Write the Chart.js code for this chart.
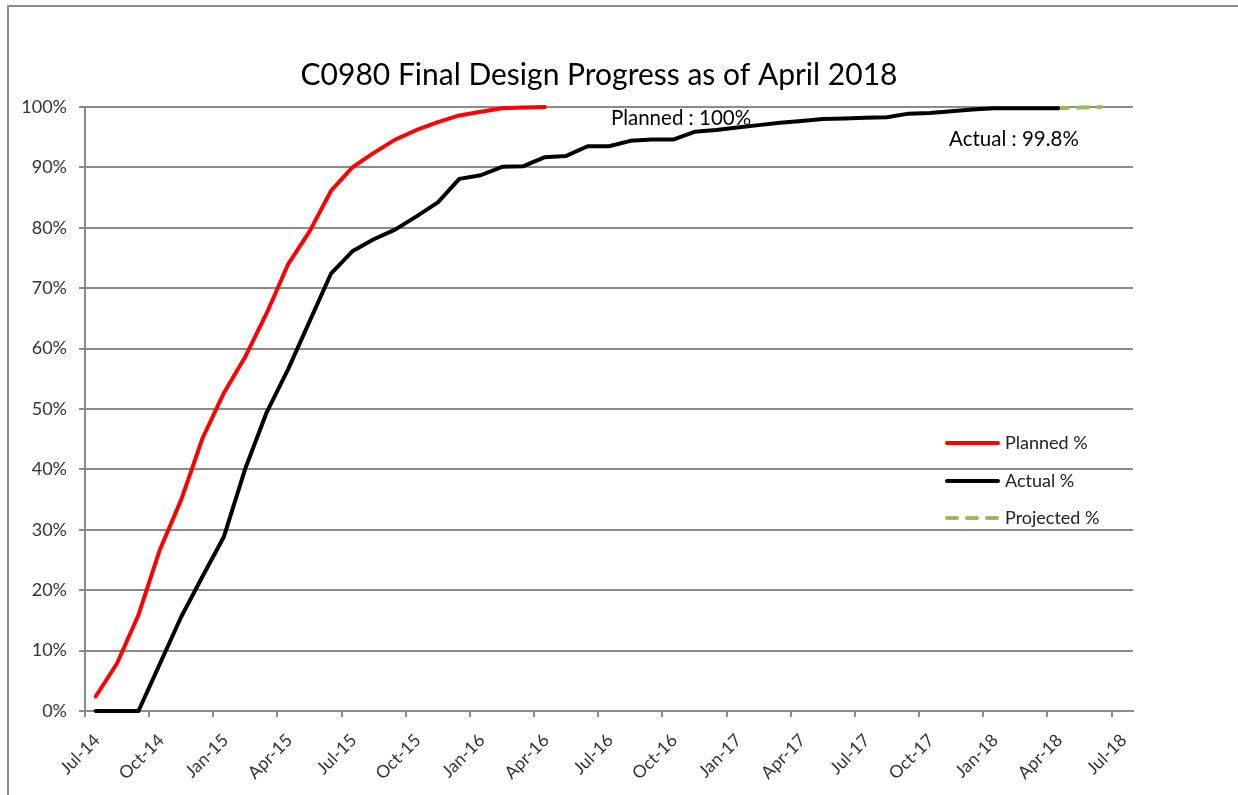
<!DOCTYPE html>
<html>
<head>
<meta charset="utf-8">
<title>C0980 Final Design Progress</title>
<script src="https://cdn.jsdelivr.net/npm/chart.js@4.4.1/dist/chart.umd.min.js"></script>
<style>
  html, body { margin: 0; padding: 0; background: #fff; overflow: hidden; }
  #wrap { position: relative; width: 1238px; height: 795px; overflow: hidden; }
  #frame { position: absolute; left: 7px; top: 5px; width: 1400px; height: 900px;
           border-left: 2px solid #8c8c8c; border-top: 2px solid #8c8c8c; }
  canvas { position: absolute; left: 0; top: 0; }
</style>
</head>
<body>
<div id="wrap">
  <div id="frame"></div>
  <canvas id="progressChart" width="1238" height="795"></canvas>
</div>
<script>
// Axis ticks every 3 months, month 0 = Jul-14
const tickLabels = ['Jul-14', 'Oct-14', 'Jan-15', 'Apr-15', 'Jul-15', 'Oct-15', 'Jan-16', 'Apr-16',
  'Jul-16', 'Oct-16', 'Jan-17', 'Apr-17', 'Jul-17', 'Oct-17', 'Jan-18', 'Apr-18', 'Jul-18'];

// Monthly status values (%), first value is mid Jul-14
const plannedPct = [2.4, 7.9, 15.9, 26.7, 35.0, 45.2, 52.7, 58.7, 65.9, 74.0, 79.4, 86.1,
  90.0, 92.4, 94.6, 96.2, 97.5, 98.6, 99.2, 99.8, 99.9, 100];

const actualPct = [0, 0, 0, 7.8, 15.6, 22.3, 28.9, 40.2, 49.5, 56.6, 64.5, 72.4,
  76.1, 78.1, 79.7, 81.9, 84.2, 88.1, 88.7, 90.1, 90.2, 91.7, 91.9, 93.5,
  93.5, 94.4, 94.6, 94.6, 95.9, 96.2, 96.6, 97.0, 97.4, 97.7, 98.0, 98.1,
  98.2, 98.3, 98.9, 99.0, 99.3, 99.6, 99.8, 99.8, 99.8, 99.8];

// Projection starts at the last actual point (Apr-18)
const projectedStart = 45;
const projectedPct = [99.8, 99.9, 100];

const monthsShown = 49; // Jul-14 .. Aug-18

// status dates are mid-month
function toPoints(values, startMonth) {
  return values.map((v, i) => ({ x: startMonth + i + 0.5, y: v }));
}

const FONT = 'Lato, "Open Sans", sans-serif';
const GRID = '#8a8a8a';

// title, notes and legend drawn on top of the plot
const overlayPlugin = {
  id: 'overlay',
  afterDraw(chart) {
    const ctx = chart.ctx;
    ctx.save();
    ctx.fillStyle = '#000';
    ctx.textBaseline = 'middle';

    ctx.font = '30px ' + FONT;
    ctx.textAlign = 'center';
    ctx.fillText('C0980 Final Design Progress as of April 2018', 599, 75);

    ctx.font = '20.5px ' + FONT;
    ctx.fillText('Planned : 100%', 681, 118);
    ctx.fillText('Actual : 99.8%', 1014, 139);

    // legend
    ctx.font = '18px ' + FONT;
    ctx.textAlign = 'left';
    const rows = [443, 481, 518];
    chart.data.datasets.forEach((ds, i) => {
      const y = rows[i];
      ctx.beginPath();
      ctx.strokeStyle = ds.borderColor;
      ctx.lineWidth = 4;
      ctx.lineCap = 'round';
      ctx.setLineDash(ds.borderDash || []);
      ctx.moveTo(947, y);
      ctx.lineTo(998, y);
      ctx.stroke();
      ctx.setLineDash([]);
      ctx.fillStyle = '#222';
      ctx.fillText(ds.label, 1005, y);
    });
    ctx.restore();
  }
};

const ctx = document.getElementById('progressChart').getContext('2d');
new Chart(ctx, {
  type: 'line',
  data: {
    datasets: [
      {
        label: 'Planned %',
        data: toPoints(plannedPct, 0),
        borderColor: '#ff0000',
        borderWidth: 4
      },
      {
        label: 'Actual %',
        data: toPoints(actualPct, 0),
        borderColor: '#000000',
        borderWidth: 4
      },
      {
        label: 'Projected %',
        data: toPoints(projectedPct, projectedStart),
        borderColor: '#9bbb59',
        borderWidth: 4,
        borderDash: [10, 10]
      }
    ]
  },
  options: {
    responsive: false,
    animation: false,
    layout: { padding: { top: 107, right: 105, bottom: 0, left: 0 } },
    elements: {
      point: { radius: 0 },
      line: { tension: 0, borderJoinStyle: 'round', borderCapStyle: 'round', fill: false }
    },
    datasets: { line: { clip: 6 } },
    plugins: {
      legend: { display: false },
      title: { display: false },
      tooltip: { enabled: false }
    },
    scales: {
      x: {
        type: 'linear',
        min: 0,
        max: monthsShown,
        afterFit: scale => { scale.height = 84; },
        afterBuildTicks: scale => {
          scale.ticks = scale.ticks.filter(t => Math.round(t.value) % 3 === 0);
        },
        ticks: {
          stepSize: 3,
          includeBounds: false,
          autoSkip: false,
          maxRotation: 45,
          minRotation: 45,
          padding: 13,
          labelOffset: 12,
          color: '#333',
          font: { family: FONT, size: 17.5 },
          callback: v => tickLabels[Math.round(v / 3)]
        },
        grid: { drawOnChartArea: false, drawTicks: true, tickLength: 6, color: GRID, lineWidth: 2 },
        border: { display: true, color: GRID, width: 2 }
      },
      y: {
        min: 0,
        max: 100,
        afterFit: scale => { scale.width = 85; },
        ticks: {
          stepSize: 10,
          padding: 12,
          color: '#333',
          font: { family: FONT, size: 18 },
          callback: v => v + '%'
        },
        grid: { color: GRID, lineWidth: 2, tickLength: 6 },
        border: { display: true, color: GRID, width: 2 }
      }
    }
  },
  plugins: [overlayPlugin]
});
</script>
</body>
</html>
